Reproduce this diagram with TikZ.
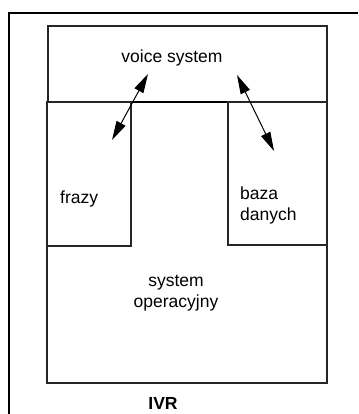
\documentclass[tikz,border=0pt]{standalone}
\usepackage{fontspec}
\setmainfont{Liberation Sans}
\usetikzlibrary{arrows.meta}
\begin{document}
\begin{tikzpicture}[x=1pt,y=-1pt,
  box/.style={draw=black!85,line width=1.1pt},
  lbl/.style={font=\fontsize{17.5}{21}\selectfont,align=center,inner sep=0pt},
  link/.style={line width=1pt,{Triangle[length=19pt,width=10pt]}-{Triangle[length=19pt,width=10pt]}}]
  \useasboundingbox (0,0) rectangle (358,414);
  % outer IVR frame, open towards the right and the bottom
  \draw[line width=2pt] (9,414) -- (9,13) -- (358,13);
  % voice system layer
  \draw[box] (48,26) rectangle (327,102);
  % operating system layer with the two inner modules
  \draw[box] (47,102) rectangle (327,383);
  \draw[line width=2pt] (47,102) -- (327,102);
  \draw[box] (47,102) rectangle (131,246);
  \draw[box] (228,102) rectangle (327,245);
  % labels
  \node[lbl] (voice) at (172,58) {voice system};
  \node[lbl,anchor=west] (frazy) at (60,199) {frazy};
  \node[lbl,align=left,anchor=west] (baza) at (240,205) {baza\\danych};
  \node[lbl] (os) at (176,293) {system\\operacyjny};
  \node[lbl,font=\fontsize{17.5}{21}\selectfont\bfseries] (ivr) at (163,403) {IVR};
  % connections between the voice system and the modules
  \coordinate (v1) at (148,74);
  \coordinate (f1) at (112,140);
  \coordinate (v2) at (237,75);
  \coordinate (b1) at (274,151);
  \draw[link] (v1) -- (f1);
  \draw[link] (v2) -- (b1);
\end{tikzpicture}
\end{document}
